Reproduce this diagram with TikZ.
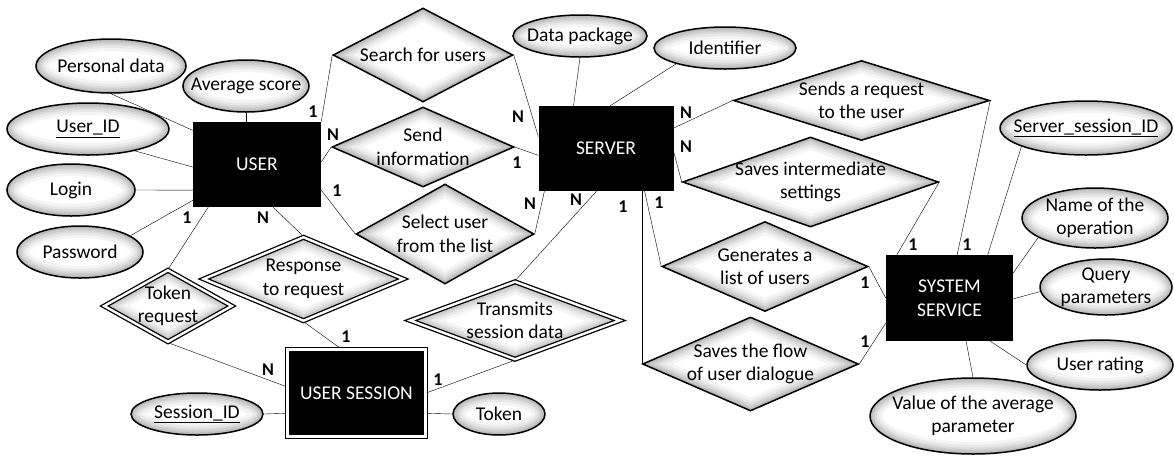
\documentclass[tikz,border=0pt]{standalone}
\usepackage{fontspec}
\setmainfont{Carlito}
\usetikzlibrary{shapes.geometric,calc,backgrounds}

% soft inner shading that follows the outline of an attribute ellipse
\newcommand\glowellipse{%
  \foreach \w/\c in {24/9,18/18,13/29,9/40,5/52,2/62}{%
    \draw[line width=\w pt, draw=gray!\c]
      let \p1=($(path picture bounding box.north east)-(path picture bounding box.center)$) in
      (path picture bounding box.center) ellipse [x radius=\x1, y radius=\y1];}}
% the same for a relationship diamond
\newcommand\glowdiamond{%
  \foreach \w/\c in {24/9,18/18,13/29,9/40,5/52,2/62}{%
    \draw[line width=\w pt, draw=gray!\c, line join=miter]
      (path picture bounding box.north) -- (path picture bounding box.east) --
      (path picture bounding box.south) -- (path picture bounding box.west) -- cycle;}}

\tikzset{
  base/.style={font=\fontsize{19.5}{23.5}\selectfont, align=center},
  ent/.style 2 args={base, rectangle, fill=black, text=white,
    minimum width=#1, minimum height=#2, inner sep=0pt},
  went/.style 2 args={ent={#1}{#2}, draw=black, double=white,
    double distance=2.4pt, line width=1.3pt},
  attr/.style 2 args={base, ellipse, draw=black, line width=1.5pt, fill=white,
    inner xsep=-60pt, inner ysep=-30pt, minimum width=#1, minimum height=#2,
    path picture={\glowellipse}},
  rel/.style 2 args={base, diamond, draw=black, line width=1.5pt, fill=white,
    inner xsep=-60pt, inner ysep=-30pt, minimum width=#1, minimum height=#2,
    path picture={\glowdiamond}},
  weak/.style 2 args={rel={#1}{#2}, double=white, double distance=2.4pt,
    line width=1.3pt},
  card/.style={font=\bfseries\fontsize{18}{21}\selectfont, inner sep=0pt},
  conn/.style={line width=1.5pt},
}

\begin{document}
\begin{tikzpicture}[x=1pt,y=-1pt]
\useasboundingbox (0,0) rectangle (1174,456);

% entities
\node[ent={128}{85}] (user) at (257,164.5) {USER};
\node[ent={135}{85}] (server) at (606,148.5) {SERVER};
\node[ent={127}{86}] (sys) at (949.5,298) {SYSTEM\\SERVICE};
\node[went={138}{87}] (usess) at (356.5,393) {USER SESSION};

% attributes
\node[attr={150}{54}] (pd) at (111,66) {Personal data};
\node[attr={126}{52}] (avg) at (246,86) {Average score};
\node[attr={162}{52}] (uid) at (88,129) {\underline{User\_ID}};
\node[attr={128}{52}] (login) at (71,190) {Login};
\node[attr={126}{52}] (pwd) at (80,252) {Password};
\node[attr={134}{42}] (dp) at (580,36) {Data package};
\node[attr={142}{42}] (ident) at (725,48) {Identifier};
\node[attr={172}{54}] (ssid) at (1086,128) {\underline{Server\_session\_ID}};
\node[attr={146}{60}] (nop) at (1095,218) {Name of the\\operation};
\node[attr={132}{56}] (qp) at (1106,287) {Query\\parameters};
\node[attr={146}{50}] (ur) at (1100,365) {User rating};
\node[attr={206}{76}] (vap) at (973,416) {Value of the average\\parameter};
\node[attr={132}{42}] (sid) at (197,414) {\underline{Session\_ID}};
\node[attr={92}{42}] (tok) at (499,414) {Token};

% relationships
\node[rel={180}{94}] (search) at (423,55) {Search for users};
\node[rel={182}{80}] (send) at (423,147) {Send\\information};
\node[rel={178}{100}] (select) at (445,234) {Select user\\from the list};
\node[rel={256}{80}] (sendreq) at (861.5,100.5) {Sends a request\\to the user};
\node[rel={256}{90}] (saveint) at (810.5,182) {Saves intermediate\\settings};
\node[rel={206}{90}] (gen) at (765,266.5) {Generates a\\list of users};
\node[rel={216}{94}] (flow) at (750.5,364) {Saves the flow\\of user dialogue};
\node[weak={128}{72}] (treq) at (168,306) {Token\\request};
\node[weak={200}{84}] (resp) at (303.5,279) {Response\\to request};
\node[weak={210}{78}] (trans) at (515,320.5) {Transmits\\session data};

% connectors
\begin{scope}[on background layer, conn]
\draw (pd.south) -- ($(user.north west)!.1!(user.south west)$);
\draw (avg.south) -- (avg.south |- user.north);
\draw (uid.-25) -- ($(user.north west)!.53!(user.south west)$);
\draw (login.east) -- ($(user.north west)!.8!(user.south west)$);
\draw (pwd.18) -- ($(user.north west)!.92!(user.south west)$);
\draw (user.north east) -- (search.west);
\draw ($(user.north east)!.47!(user.south east)$) -- (send.west);
\draw ($(user.north east)!.8!(user.south east)$) -- (select.west);
\draw ($(user.south west)!.12!(user.south east)$) -- (treq.north);
\draw ($(user.south west)!.625!(user.south east)$) -- (resp.north);
\draw (search.east) -- ($(server.north west)!.36!(server.south west)$);
\draw (send.east) -- ($(server.north west)!.58!(server.south west)$);
\draw (select.east) -- ($(server.south west)!.045!(server.south east)$);
\draw (dp.south) -- ($(server.north west)!.26!(server.north east)$);
\draw (ident.198) -- ($(server.north west)!.53!(server.north east)$);
\draw (trans.north) -- ($(server.south west)!.43!(server.south east)$);
\draw (flow.west) -- (flow.west |- server.south);
\draw (gen.west) -- ($(server.south west)!.785!(server.south east)$);
\draw ($(server.north east)!.26!(server.south east)$) -- (sendreq.west);
\draw ($(server.north east)!.54!(server.south east)$) -- (saveint.west);
\draw (sendreq.east) -- ($(sys.north west)!.56!(sys.north east)$);
\draw (saveint.east) -- ($(sys.north west)!.087!(sys.north east)$);
\draw (ssid.196) -- ($(sys.north west)!.8!(sys.north east)$);
\draw (nop.199) -- ($(sys.north east)!.21!(sys.south east)$);
\draw (qp.184) -- ($(sys.north east)!.51!(sys.south east)$);
\draw (ur.west) -- ($(sys.south west)!.82!(sys.south east)$);
\draw (vap.north) -- ($(sys.south west)!.63!(sys.south east)$);
\draw (gen.east) -- (sys.west);
\draw (flow.east) -- ($(sys.north west)!.79!(sys.south west)$);
\draw (treq.south) -- ($(usess.north west)!.43!(usess.south west)$);
\draw (resp.south) -- ($(usess.north west)!.39!(usess.north east)$);
\draw (trans.south) -- (usess.east);
\draw (sid.east) -- ($(usess.north west)!.73!(usess.south west)$);
\draw (tok.west) -- ($(usess.north east)!.73!(usess.south east)$);
\end{scope}

% cardinalities
\node[card] (cu1) at (313,112) {1};
\node[card] (cu2) at (333,135) {N};
\node[card] (cu3) at (337,191) {1};
\node[card] (cu4) at (187,218) {1};
\node[card] (cu5) at (263,218) {N};
\node[card] (cs1) at (518,117) {N};
\node[card] (cs2) at (517,163) {1};
\node[card] (cs3) at (530,204) {N};
\node[card] (cs4) at (576,200) {N};
\node[card] (cs5) at (623,207) {1};
\node[card] (cs6) at (659,203) {1};
\node[card] (cs7) at (686,113) {N};
\node[card] (cs8) at (686,147) {N};
\node[card] (cy1) at (913,245) {1};
\node[card] (cy2) at (967,245) {1};
\node[card] (cy3) at (865,283) {1};
\node[card] (cy4) at (865,342) {1};
\node[card] (ce1) at (268,370) {N};
\node[card] (ce2) at (346,337) {1};
\node[card] (ce3) at (438,380) {1};
\end{tikzpicture}
\end{document}
